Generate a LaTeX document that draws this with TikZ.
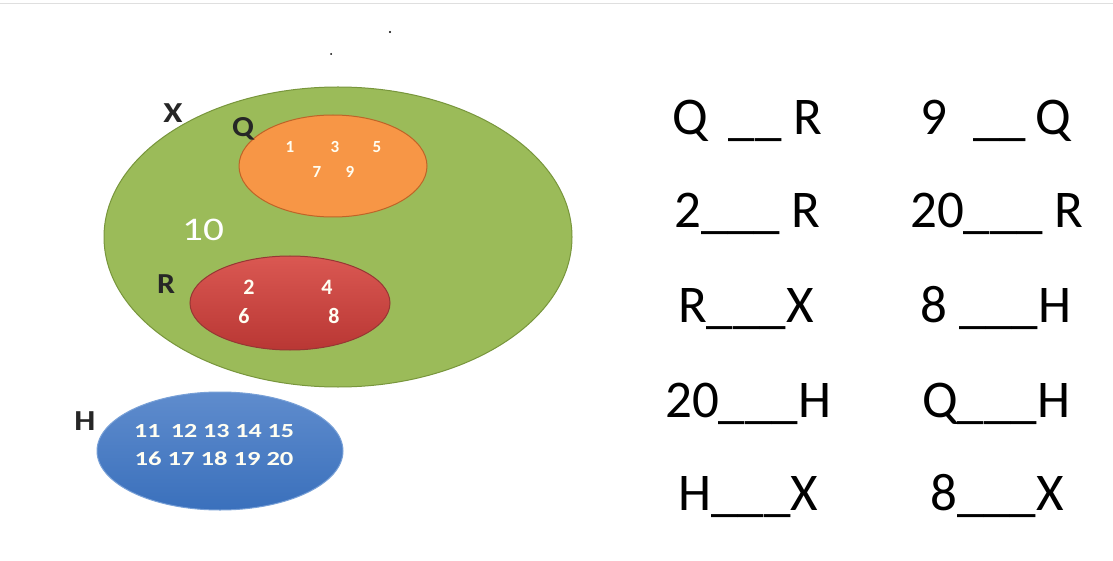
\documentclass[tikz,border=0pt]{standalone}
\usepackage{fontspec}
\setmainfont{Carlito}
\usetikzlibrary{shapes.geometric}
\begin{document}
\begin{tikzpicture}[x=1pt,y=-1pt,
  setshape/.style={ellipse,inner sep=0pt,line width=1pt},
  setname/.style={font=\fontsize{29}{31}\bfseries\selectfont,text=black!85,inner sep=0pt},
  elem/.style={font=\fontsize{17}{19}\bfseries\selectfont,text=white!95!yellow,inner sep=0pt},
  stmt/.style={anchor=base west,inner sep=0pt,font=\fontsize{53}{60}\selectfont}]
\useasboundingbox (0,0) rectangle (1113,561);
\fill[white] (0,0) rectangle (1113,561);
\draw[gray!25,line width=1pt] (0,4) -- (1113,4);
\fill[black] (390,32) circle (1.2pt);
\fill[black] (331,54) circle (1pt);
% sets
\node[setshape,draw={rgb,255:red,120;green,150;blue,60},fill={rgb,255:red,155;green,187;blue,89},
  minimum width=468pt,minimum height=300pt] (X) at (338,237) {};
\node[setshape,draw={rgb,255:red,190;green,100;blue,40},fill={rgb,255:red,247;green,150;blue,70},
  minimum width=188pt,minimum height=102pt] (Q) at (333,166) {};
\node[setshape,draw={rgb,255:red,150;green,55;blue,52},top color={rgb,255:red,218;green,88;blue,82},
  bottom color={rgb,255:red,185;green,55;blue,52},
  minimum width=200pt,minimum height=94pt] (R) at (290,303) {};
\node[setshape,draw={rgb,255:red,120;green,160;blue,215},top color={rgb,255:red,95;green,140;blue,205},
  bottom color={rgb,255:red,58;green,112;blue,188},
  minimum width=246pt,minimum height=118pt] (H) at (220,451) {};
% set names
\node[setname] (lX) at (173,113) {\scalebox{1.2}[1]{X}};
\node[setname] (lQ) at (243,129) {\scalebox{1.1}[1]{Q}};
\node[setname] (lR) at (166,284) {\scalebox{1.1}[1]{R}};
\node[setname] (lH) at (85,421) {\scalebox{1.15}[1]{H}};
% elements
\node[elem] (e1) at (290,147) {1};
\node[elem] (e3) at (335,147) {3};
\node[elem] (e5) at (377,147) {5};
\node[elem] (e7) at (317,172) {7};
\node[elem] (e9) at (350,172) {9};
\node[elem,font=\fontsize{33}{35}\selectfont,text=white] (e10) at (203,230) {\scalebox{1.25}[1]{10}};
\node[elem,font=\fontsize{22}{24}\bfseries\selectfont] (e2) at (249,287) {2};
\node[elem,font=\fontsize{22}{24}\bfseries\selectfont] (e4) at (327,287) {4};
\node[elem,font=\fontsize{22}{24}\bfseries\selectfont] (e6) at (244,316) {6};
\node[elem,font=\fontsize{22}{24}\bfseries\selectfont] (e8) at (334,316) {8};
\node[elem,font=\fontsize{20}{22}\bfseries\selectfont] (h1) at (214,431) {\scalebox{1.3}[1]{11\hspace{8pt}12 13 14 15}};
\node[elem,font=\fontsize{20}{22}\bfseries\selectfont] (h2) at (214,459) {\scalebox{1.33}[1]{16 17 18 19 20}};
% statements
\node[stmt] (s1) at (672,135) {Q\hspace{21pt}\_\_\hspace{12pt}R};
\node[stmt] (s2) at (920,135) {9\hspace{26pt}\_\_\hspace{10pt}Q};
\node[stmt] (s3) at (674,228) {2\_\_\_\hspace{11pt}R};
\node[stmt] (s4) at (910,228) {20\_\_\_\hspace{11pt}R};
\node[stmt] (s5) at (678,322) {R\_\_\_X};
\node[stmt] (s6) at (920,322) {8 \_\_\_H};
\node[stmt] (s7) at (665,417) {20\_\_\_H};
\node[stmt] (s8) at (922,417) {Q\_\_\_H};
\node[stmt] (s9) at (678,510) {H\_\_\_X};
\node[stmt] (s10) at (930,510) {8\_\_\_X};
\end{tikzpicture}
\end{document}
